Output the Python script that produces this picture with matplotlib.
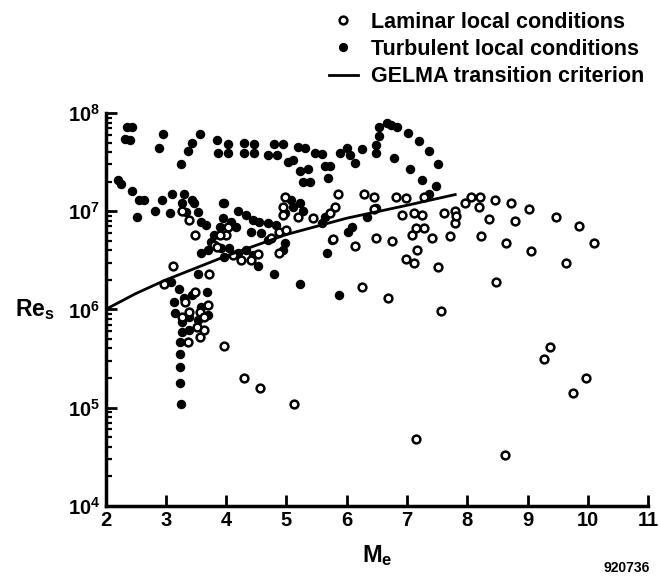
import matplotlib
matplotlib.use("Agg")
import matplotlib.pyplot as plt
from matplotlib.lines import Line2D
from matplotlib.ticker import LogLocator, NullFormatter

plt.rcParams['font.family'] = ['Liberation Sans', 'DejaVu Sans']
plt.rcParams['font.weight'] = 'bold'
plt.rcParams['mathtext.fontset'] = 'custom'
plt.rcParams['mathtext.rm'] = 'Liberation Sans:bold'
plt.rcParams['mathtext.it'] = 'Liberation Sans:bold'
plt.rcParams['mathtext.bf'] = 'Liberation Sans:bold'

# ---- data (Mach number, Reynolds number) ----
turb_mach = [2.36, 2.44, 2.33, 2.41, 2.95, 2.89, 3.57, 3.44, 3.36, 3.25,
             3.84, 3.87, 4.03, 4.03, 4.30, 4.30, 4.46, 4.46, 4.79, 4.95,
             4.70, 4.85, 5.20, 5.31, 5.03, 5.11, 5.48, 5.59, 5.23, 5.36,
             5.28, 5.39, 5.64, 5.72, 5.69, 5.89, 6.00, 6.05, 6.13, 6.25,
             6.49, 6.49, 6.54, 6.66, 6.74, 6.84, 6.54, 7.02, 7.20, 7.36,
             7.52, 6.79, 7.05, 7.25, 7.48, 7.36,
             5.23, 5.11, 4.98, 5.28, 5.07, 5.64, 5.59, 6.02, 6.08, 6.33, 6.49,
             5.67, 5.75, 4.80, 5.23, 5.87, 4.98, 4.95,
             2.20, 2.25, 2.44, 2.56, 2.64, 2.93, 3.10, 3.30, 2.52, 2.82, 3.07,
             3.26, 3.43, 3.97, 4.20, 4.33, 3.46, 3.26, 3.34, 3.54, 3.59, 3.67,
             3.95, 3.95, 4.08, 4.16, 3.89, 4.44, 4.54, 4.69, 4.82, 4.41,
             3.80, 3.75, 3.59, 3.70, 3.92, 4.05, 4.20, 4.33, 4.44, 4.52, 3.97,
             3.54, 4.69, 4.57,
             3.08, 3.21, 3.69, 3.13, 3.30, 3.43, 3.59, 3.15, 3.26, 3.38, 3.26,
             3.39, 3.23, 3.70, 3.54,
             3.23, 3.23, 3.23, 3.25]
turb_re = [7.2e7, 7.2e7, 5.5e7, 5.3e7, 6.1e7, 4.4e7, 6.1e7, 5.0e7, 4.1e7, 3.0e7,
           5.3e7, 3.9e7, 4.9e7, 3.9e7, 5.0e7, 3.9e7, 4.9e7, 3.9e7, 4.9e7, 4.9e7,
           3.7e7, 3.7e7, 4.5e7, 4.4e7, 3.2e7, 3.3e7, 3.9e7, 3.8e7, 2.6e7, 2.7e7,
           2.0e7, 2.0e7, 2.9e7, 2.9e7, 2.2e7, 3.9e7, 4.4e7, 3.7e7, 3.1e7, 4.3e7,
           4.7e7, 3.9e7, 7.2e7, 7.9e7, 7.6e7, 7.2e7, 5.9e7, 6.2e7, 5.2e7, 4.1e7,
           3.0e7, 3.5e7, 2.7e7, 2.1e7, 1.8e7, 1.5e7,
           1.2e7, 1.1e7, 9.6e6, 1.0e7, 1.3e7, 8.7e6, 7.6e6, 6.1e6, 6.9e6, 8.7e6, 1.07e7,
           3.8e6, 5.1e6, 2.3e6, 1.8e6, 1.4e6, 4.7e6, 4.0e6,
           2.1e7, 1.9e7, 1.6e7, 1.3e7, 1.3e7, 1.3e7, 1.5e7, 1.5e7, 8.7e6, 1.0e7, 9.6e6,
           1.2e7, 1.3e7, 1.2e7, 1.0e7, 9.1e6, 1.2e7, 1.0e7, 9.8e6, 9.8e6, 7.8e6, 7.2e6,
           1.2e7, 8.5e6, 7.8e6, 6.9e6, 6.9e6, 8.1e6, 7.8e6, 7.6e6, 7.2e6, 6.1e6,
           5.7e6, 4.9e6, 3.8e6, 4.0e6, 4.2e6, 4.2e6, 3.8e6, 4.0e6, 3.6e6, 2.8e6, 3.4e6,
           2.3e6, 5.1e6, 6.0e6,
           1.9e6, 1.6e6, 1.5e6, 1.2e6, 1.3e6, 1.4e6, 1.06e6, 9.2e5, 7.4e5, 8.4e5, 5.9e5,
           6.2e5, 4.7e5, 8.8e5, 7.8e5,
           3.5e5, 2.6e5, 1.8e5, 1.1e5]

lam_mach = [3.26, 3.39, 3.48, 3.79, 3.84, 4.03, 4.00, 4.11, 4.25, 4.41, 4.52, 3.11, 3.89,
            4.87, 5.00, 4.87, 4.74, 4.95, 4.95, 4.98, 3.72, 2.97,
            3.97, 4.30, 4.56, 5.13,
            3.48, 3.31, 3.70, 3.56, 3.38, 3.64, 3.51, 3.56, 3.36, 3.26, 3.64,
            5.20, 5.44, 5.80, 5.85, 5.72, 6.28, 6.46, 6.82, 6.98, 7.28, 6.46,
            6.92, 7.11, 7.25, 7.61, 7.80, 7.80, 7.15, 7.28, 7.08, 7.41, 7.72,
            5.77, 6.13, 6.49, 6.75, 7.16, 6.98, 7.11, 7.52,
            8.07, 8.21, 7.97, 8.46, 8.72, 9.03, 9.48, 9.85, 10.11, 8.20, 7.82,
            8.36, 8.79, 8.23, 8.64, 9.05, 9.64,
            8.48, 9.38, 9.28, 9.97, 9.75, 8.62, 7.56, 6.25, 6.69, 7.15]
lam_re = [1.0e7, 8.1e6, 5.7e6, 4.5e6, 4.3e6, 6.9e6, 5.7e6, 3.6e6, 3.2e6, 3.2e6, 3.7e6, 2.8e6, 5.7e6,
          6.1e6, 6.4e6, 3.8e6, 5.4e6, 1.1e7, 9.1e6, 1.4e7, 2.3e6, 1.8e6,
          4.2e5, 2.0e5, 1.6e5, 1.1e5,
          1.5e6, 1.2e6, 1.1e6, 9.4e5, 9.4e5, 6.2e5, 6.6e5, 5.2e5, 4.7e5, 8.4e5, 8.4e5,
          8.7e6, 8.5e6, 1.1e7, 1.5e7, 9.6e6, 1.5e7, 1.4e7, 1.4e7, 1.35e7, 1.4e7, 1.05e7,
          9.1e6, 9.6e6, 9.1e6, 9.6e6, 1.0e7, 7.6e6, 6.7e6, 6.7e6, 5.7e6, 5.4e6, 5.6e6,
          5.2e6, 4.4e6, 5.3e6, 5.0e6, 4.0e6, 3.3e6, 3.0e6, 2.7e6,
          1.4e7, 1.4e7, 1.2e7, 1.3e7, 1.2e7, 1.05e7, 8.7e6, 7.1e6, 4.7e6, 1.1e7, 8.9e6,
          8.3e6, 7.9e6, 5.6e6, 4.7e6, 3.9e6, 3.0e6,
          1.9e6, 4.1e5, 3.1e5, 2.0e5, 1.4e5, 3.3e4, 9.6e5, 1.7e6, 1.3e6, 4.8e4]

gelma_mach = [2.0, 2.5, 3.0, 4.0, 5.0, 6.0, 7.0, 7.8]
gelma_re = [1.0e6, 1.45e6, 2.0e6, 3.5e6, 5.8e6, 8.5e6, 1.15e7, 1.48e7]

x_ticks = [2, 3, 4, 5, 6, 7, 8, 9, 10, 11]
y_ticks = [1e4, 1e5, 1e6, 1e7, 1e8]
y_labels = [r'$10^{4}$', r'$10^{5}$', r'$10^{6}$', r'$10^{7}$', r'$10^{8}$']

fig = plt.figure(figsize=(6.6, 5.8), dpi=100)
ax = fig.add_axes([0.16, 0.128, 0.822, 0.677])

ax.plot(turb_mach, turb_re, 'o', color='black', markersize=5.8, linestyle='none')
ax.plot(lam_mach, lam_re, 'o', markerfacecolor='white', markeredgecolor='black',
        markeredgewidth=1.8, markersize=5.6, linestyle='none')
ax.plot(gelma_mach, gelma_re, '-', color='black', linewidth=2)

ax.set_yscale('log')
ax.set_xlim(2, 11)
ax.set_ylim(1e4, 1e8)

ax.spines['top'].set_visible(False)
ax.spines['right'].set_visible(False)
ax.spines['left'].set_linewidth(2.5)
ax.spines['bottom'].set_linewidth(2.5)

ax.set_xticks(x_ticks)
ax.set_xticklabels([str(t) for t in x_ticks], fontsize=14.5, fontweight='bold')
ax.set_yticks(y_ticks)
ax.set_yticklabels(y_labels, fontsize=14.5)
ax.yaxis.set_minor_locator(LogLocator(base=10, subs=range(2, 10)))
ax.yaxis.set_minor_formatter(NullFormatter())
ax.tick_params(axis='both', which='major', direction='in', length=8, width=2, pad=4)
ax.tick_params(axis='y', which='minor', direction='in', length=4.5, width=1.6)

ax.set_xlabel(r'$M_e$', fontsize=17, labelpad=9)
ax.text(-0.095, 1e6, r'$Re_s$', transform=ax.get_yaxis_transform(),
        fontsize=16.5, ha='right', va='center')

handles = [
    Line2D([], [], marker='o', linestyle='none', markerfacecolor='white',
           markeredgecolor='black', markeredgewidth=1.8, markersize=5.6),
    Line2D([], [], marker='o', linestyle='none', color='black', markersize=5.6),
    Line2D([], [], color='black', linewidth=2),
]
labels = ['Laminar local conditions', 'Turbulent local conditions',
          'GELMA transition criterion']
fig.legend(handles, labels, loc='upper left', bbox_to_anchor=(0.485, 0.995),
           frameon=False, fontsize=15.5, handlelength=1.35, handletextpad=0.6,
           labelspacing=0.3, borderaxespad=0)

fig.text(0.985, 0.008, '920736', ha='right', va='bottom', fontsize=10)

fig.savefig('out.png', dpi=100)
